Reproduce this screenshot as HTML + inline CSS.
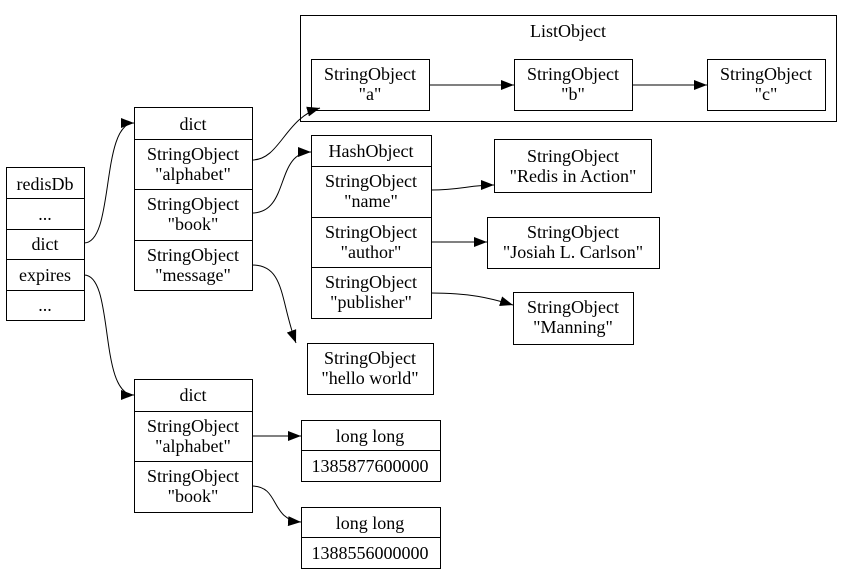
<!DOCTYPE html>
<html><head><style>body{margin:0;background:#fff}svg{display:block}text{font-family:"Liberation Serif",serif;font-size:18px;fill:#000}</style></head>
<body>
<svg width="853" height="588" viewBox="0 0 853 588" xmlns="http://www.w3.org/2000/svg">
<defs><marker id="a" markerWidth="13" markerHeight="10" refX="13" refY="5" orient="auto" markerUnits="userSpaceOnUse"><path d="M0,0 L13,5 L0,10 z" fill="#000"/></marker></defs>
<g fill="none" stroke="#000" stroke-width="1">
<rect x="300.5" y="15.5" width="536" height="106"/>
<rect x="6.5" y="167.5" width="78" height="153"/>
<path d="M6 198.5H84M6 229.5H84M6 259.5H84M6 290.5H84"/>
<rect x="134.5" y="107.5" width="118" height="183"/>
<path d="M134 139.5H252M134 189.5H252M134 240.5H252"/>
<rect x="311.5" y="59.5" width="118" height="51"/>
<rect x="514.5" y="59.5" width="118" height="51"/>
<rect x="707.5" y="59.5" width="118" height="51"/>
<rect x="311.5" y="135.5" width="120" height="183"/>
<path d="M311 166.5H431M311 217.5H431M311 267.5H431"/>
<rect x="494.5" y="139.5" width="157" height="53"/>
<rect x="487.5" y="217.5" width="172" height="51"/>
<rect x="513.5" y="292.5" width="120" height="52"/>
<rect x="307.5" y="343.5" width="126" height="51"/>
<rect x="134.5" y="379.5" width="118" height="133"/>
<path d="M134 411.5H252M134 461.5H252"/>
<rect x="301.5" y="420.5" width="139" height="61"/>
<path d="M301 450.5H440"/>
<rect x="301.5" y="507.5" width="139" height="61"/>
<path d="M301 537.5H440"/>
<path d="M84 243C115 243 100 123 134 123" marker-end="url(#a)"/>
<path d="M84 275C115 275 98 395 134 395" marker-end="url(#a)"/>
<path d="M252 160C280 160 285 118 320 108" marker-end="url(#a)"/>
<path d="M252 213C290 213 275 152 311 152" marker-end="url(#a)"/>
<path d="M252 265C285 265 280 300 296 343" marker-end="url(#a)"/>
<path d="M429 85H514" marker-end="url(#a)"/>
<path d="M632 85H707" marker-end="url(#a)"/>
<path d="M431 190C460 190 470 185 494 185" marker-end="url(#a)"/>
<path d="M431 242H487" marker-end="url(#a)"/>
<path d="M431 293C470 293 490 298 513 305" marker-end="url(#a)"/>
<path d="M252 436H301" marker-end="url(#a)"/>
<path d="M252 486C280 486 270 520 301 522" marker-end="url(#a)"/>
</g>
<g text-anchor="middle">
<text x="568" y="37">ListObject</text>
<text x="45" y="190">redisDb</text><text x="45" y="220">...</text><text x="45" y="250">dict</text><text x="45" y="281">expires</text><text x="45" y="311">...</text>
<text x="193" y="130">dict</text>
<text x="193" y="160">StringObject</text><text x="193" y="180">"alphabet"</text>
<text x="193" y="210">StringObject</text><text x="193" y="230">"book"</text>
<text x="193" y="261">StringObject</text><text x="193" y="281">"message"</text>
<text x="370" y="80">StringObject</text><text x="370" y="100">"a"</text>
<text x="573" y="80">StringObject</text><text x="573" y="100">"b"</text>
<text x="766" y="80">StringObject</text><text x="766" y="100">"c"</text>
<text x="371" y="157">HashObject</text>
<text x="371" y="187">StringObject</text><text x="371" y="207">"name"</text>
<text x="371" y="238">StringObject</text><text x="371" y="258">"author"</text>
<text x="371" y="288">StringObject</text><text x="371" y="308">"publisher"</text>
<text x="573" y="162">StringObject</text><text x="573" y="182">"Redis in Action"</text>
<text x="573" y="238">StringObject</text><text x="573" y="258">"Josiah L. Carlson"</text>
<text x="573" y="313">StringObject</text><text x="573" y="333">"Manning"</text>
<text x="370" y="364">StringObject</text><text x="370" y="384">"hello world"</text>
<text x="193" y="401">dict</text>
<text x="193" y="432">StringObject</text><text x="193" y="452">"alphabet"</text>
<text x="193" y="482">StringObject</text><text x="193" y="502">"book"</text>
<text x="370" y="442">long long</text><text x="370" y="472">1385877600000</text>
<text x="370" y="529">long long</text><text x="370" y="559">1388556000000</text>
</g>
</svg>
</body></html>
